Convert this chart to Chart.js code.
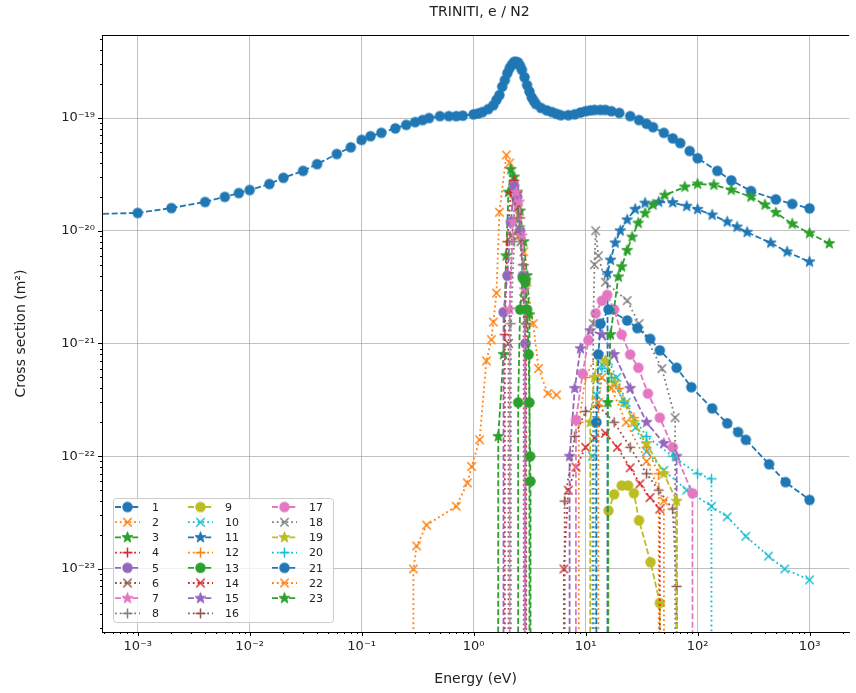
<!DOCTYPE html>
<html>
<head>
<meta charset="utf-8">
<title>TRINITI, e / N2</title>
<script src="https://cdn.jsdelivr.net/npm/chart.js@4/dist/chart.umd.min.js"></script>
<style>
  body { margin: 0; background: #fff; }
  canvas { display: block; }
</style>
</head>
<body>
<canvas id="xsChart" width="856" height="693"></canvas>
<script>
// legend labels, one per process
const labels = ['1', '2', '3', '4', '5', '6', '7', '8', '9', '10', '11', '12',
                '13', '14', '15', '16', '17', '18', '19', '20', '21', '22', '23'];

// cross sections: [energy (eV), sigma (m2)], 0 = below threshold
const s1 = [[1e-4, 1.35e-20], [1e-3, 1.44e-20], [2e-3, 1.59e-20], [4e-3, 1.8e-20], [6e-3, 2.0e-20],
  [8e-3, 2.16e-20], [1e-2, 2.3e-20], [1.5e-2, 2.6e-20], [2e-2, 2.95e-20], [3e-2, 3.4e-20],
  [4e-2, 3.9e-20], [6e-2, 4.8e-20], [8e-2, 5.5e-20], [0.1, 6.4e-20], [0.12, 6.9e-20], [0.15, 7.4e-20],
  [0.2, 8.1e-20], [0.25, 8.7e-20], [0.3, 9.2e-20], [0.35, 9.6e-20], [0.4, 1.0e-19], [0.5, 1.04e-19],
  [0.6, 1.04e-19], [0.7, 1.04e-19], [0.8, 1.05e-19], [1.0, 1.08e-19], [1.1, 1.1e-19], [1.2, 1.13e-19],
  [1.35, 1.2e-19], [1.5, 1.3e-19], [1.6, 1.45e-19], [1.7, 1.6e-19], [1.8, 1.9e-19], [1.9, 2.17e-19],
  [2.0, 2.5e-19], [2.1, 2.78e-19], [2.2, 2.98e-19], [2.3, 3.15e-19], [2.4, 3.15e-19], [2.5, 3.1e-19],
  [2.6, 2.9e-19], [2.7, 2.67e-19], [2.85, 2.3e-19], [3.0, 1.96e-19], [3.15, 1.72e-19], [3.3, 1.53e-19],
  [3.45, 1.42e-19], [3.6, 1.33e-19], [4, 1.23e-19], [4.5, 1.17e-19], [5, 1.13e-19], [5.5, 1.09e-19],
  [6, 1.06e-19], [7, 1.06e-19], [8, 1.08e-19], [9, 1.12e-19], [10, 1.15e-19], [11, 1.17e-19],
  [12, 1.18e-19], [13.5, 1.18e-19], [15, 1.18e-19], [17, 1.15e-19], [20, 1.11e-19], [25, 1.04e-19],
  [30, 9.6e-20], [35, 8.9e-20], [40, 8.3e-20], [50, 7.4e-20], [60, 6.6e-20], [70, 6.0e-20],
  [85, 5.1e-20], [100, 4.4e-20], [150, 3.4e-20], [200, 2.8e-20], [300, 2.25e-20],
  [500, 1.9e-20], [700, 1.73e-20], [1000, 1.58e-20]];
const s2 = [[0.28, 0], [0.29, 1e-23], [0.31, 1.6e-23], [0.38, 2.45e-23], [0.7, 3.6e-23],
  [0.88, 5.8e-23], [0.96, 8.1e-23], [1.13, 1.4e-22], [1.3, 7e-22], [1.44, 1.08e-21],
  [1.5, 1.55e-21], [1.6, 2.8e-21], [1.7, 1.46e-20], [1.96, 4.7e-20], [2.1, 4e-20],
  [2.3, 2.5e-20], [2.5, 9e-21], [2.8, 6.5e-21], [3.0, 3.5e-21], [3.4, 1.5e-21],
  [3.8, 6e-22], [4.6, 3.6e-22], [5.5, 3.5e-22]];
const s3 = [[1.6, 0], [1.66, 1.5e-22], [1.85, 8e-22], [1.95, 6e-21], [2.05, 2.2e-20], [2.15, 3.5e-20],
  [2.3, 3e-20], [2.45, 2.2e-20], [2.6, 1.5e-20], [2.8, 8e-21], [3.0, 4e-21], [3.15, 1.8e-21], [3.25, 0]];
const s4 = [[1.85, 0], [1.9, 1.2e-21], [2.0, 8e-21], [2.15, 2.2e-20], [2.3, 2.8e-20], [2.45, 2.2e-20],
  [2.6, 1.3e-20], [2.8, 5e-21], [2.95, 1.5e-21], [3.0, 0]];
const s5 = [[1.8, 0], [1.85, 1.9e-21], [2.0, 4e-21], [2.15, 1.2e-20], [2.3, 2.5e-20], [2.45, 2e-20],
  [2.6, 1e-20], [2.75, 4e-21], [2.9, 1e-21], [2.95, 0]];
const s6 = [[2.0, 0], [2.05, 1e-21], [2.2, 9e-21], [2.35, 1.8e-20], [2.5, 1.6e-20], [2.65, 8e-21],
  [2.8, 2.5e-21], [2.85, 0]];
const s7 = [[2.05, 0], [2.1, 2e-21], [2.25, 1.2e-20], [2.4, 2.2e-20], [2.55, 1.8e-20], [2.7, 9e-21],
  [2.85, 3e-21], [2.95, 0]];
const s8 = [[2.1, 0], [2.15, 1.5e-21], [2.3, 8e-21], [2.45, 1.3e-20], [2.6, 1.1e-20], [2.75, 5e-21],
  [2.9, 1.5e-21], [2.95, 0]];
const s9 = [[15.5, 0], [16, 3.3e-23], [18, 4.6e-23], [21, 5.5e-23], [24, 5.5e-23], [27, 4.7e-23],
  [30, 2.7e-23], [38, 1.15e-23], [46, 5e-24], [47, 0]];
const s10 = [[11, 0], [11.5, 1e-22], [12.5, 3.5e-22], [14, 6.5e-22], [16, 7e-22], [19, 5e-22],
  [23, 3e-22], [28, 1.8e-22], [35, 1.1e-22], [50, 7.5e-23], [80, 5e-23], [133, 3.6e-23],
  [184, 2.9e-23], [270, 1.95e-23], [430, 1.3e-23], [600, 1e-23], [1000, 8e-24]];
const s11 = [[15.5, 0], [15.7, 4.2e-21], [16.7, 5.5e-21], [18.4, 7.8e-21], [20.4, 1e-20],
  [23.5, 1.25e-20], [27.7, 1.55e-20], [34, 1.76e-20], [45, 1.8e-20], [60, 1.78e-20],
  [80, 1.65e-20], [100, 1.55e-20], [135, 1.38e-20], [184, 1.2e-20], [225, 1.08e-20],
  [277, 9.7e-21], [450, 7.8e-21], [630, 6.5e-21], [1000, 5.3e-21]];
const s12 = [[8.5, 0], [8.7, 2e-22], [10, 5e-22], [12.5, 8e-22], [15, 7e-22], [20, 4e-22],
  [27, 2.2e-22], [35, 1.2e-22], [45, 7e-23], [48, 0]];
const s13 = [[2.45, 0], [2.5, 3e-22], [2.6, 2e-21], [2.75, 3.8e-21], [2.9, 3.5e-21], [3.0, 2e-21],
  [3.1, 8e-22], [3.15, 3e-22], [3.2, 1e-22], [3.22, 6e-23], [3.25, 0]];
const s14 = [[6.2, 0], [6.4, 1e-23], [7, 5e-23], [8.2, 8e-23], [10, 1.2e-22], [12, 1.45e-22],
  [15, 1.6e-22], [19.2, 1.2e-22], [25, 7.9e-23], [30.6, 5.7e-23], [37.6, 4.3e-23], [46, 3.4e-23], [47, 0]];
const s15 = [[6.9, 0], [7.2, 1e-22], [8, 4e-22], [9, 9e-22], [11, 1.3e-21], [14, 1.2e-21],
  [18, 8e-22], [25, 4e-22], [35, 2e-22], [50, 1.3e-22], [65, 1e-22], [70, 0]];
const s16 = [[6.2, 0], [6.5, 4e-23], [8, 1.5e-22], [10, 2.5e-22], [13, 2.8e-22], [18, 2e-22],
  [25, 1.2e-22], [35, 7e-23], [45, 5e-23], [60, 3.4e-23], [65, 7e-24], [68, 0]];
const s17 = [[7.9, 0], [8.2, 2.1e-22], [9.4, 5.4e-22], [10.6, 1.07e-21], [12.3, 1.85e-21],
  [14, 2.4e-21], [15.6, 2.7e-21], [18, 2e-21], [21, 1.2e-21], [25, 8e-22], [29.6, 6.1e-22],
  [36, 3.6e-22], [46, 2.2e-22], [60, 1.2e-22], [90, 4.7e-23], [95, 0]];
const s18 = [[11.5, 0], [11.7, 1.5e-21], [12, 5e-21], [12.3, 1e-20], [13, 6e-21], [15, 3.5e-21],
  [23.5, 2.4e-21], [30, 1.5e-21], [48, 6e-22], [63, 2.2e-22], [70, 0]];
const s19 = [[10.5, 0], [11, 2e-22], [12, 5e-22], [13, 8e-22], [15, 7e-22], [18, 4.5e-22],
  [22, 3e-22], [27, 2e-22], [35, 1.3e-22], [50, 7e-23], [65, 4e-23], [70, 0]];
const s20 = [[11.8, 0], [12.2, 2e-22], [14, 6e-22], [17, 5e-22], [22, 3e-22], [35, 1.5e-22],
  [60, 1e-22], [100, 7e-23], [133, 6.3e-23], [140, 0]];
const s21 = [[12, 0], [12.5, 2e-22], [13, 8e-22], [13.6, 1.5e-21], [16, 2e-21], [23.5, 1.6e-21],
  [29, 1.37e-21], [37.7, 1.1e-21], [46, 8.7e-22], [65, 6.1e-22], [88, 4.1e-22], [135, 2.66e-22],
  [184, 1.96e-22], [230, 1.64e-22], [270, 1.4e-22], [435, 8.5e-23], [610, 5.9e-23], [1000, 4.1e-23]];
const s22 = [[12.8, 0], [13, 3e-22], [14, 5e-22], [17, 4e-22], [23, 2e-22], [35, 9e-23],
  [50, 4e-23], [55, 0]];
const s23 = [[15.5, 0], [15.8, 3e-22], [16.7, 1.2e-21], [19.6, 3.9e-21], [21, 4.8e-21],
  [23.5, 6.7e-21], [26, 8.8e-21], [29.5, 1.17e-20], [34, 1.43e-20], [40, 1.7e-20], [51, 2.07e-20],
  [77, 2.45e-20], [100, 2.6e-20], [140, 2.55e-20], [200, 2.3e-20], [300, 2e-20], [400, 1.7e-20],
  [500, 1.45e-20], [700, 1.15e-20], [1000, 9.5e-21], [1500, 7.7e-21]];

const allSeries = [s1, s2, s3, s4, s5, s6, s7, s8, s9, s10, s11, s12,
                   s13, s14, s15, s16, s17, s18, s19, s20, s21, s22, s23];

// axis ranges
const xRange = [4.8e-4, 2260];
const yRange = [2.76e-24, 5.45e-19];

// matplotlib default colour cycle, marker / line cycle
const tab10 = ['#1f77b4', '#ff7f0e', '#2ca02c', '#d62728', '#9467bd',
               '#8c564b', '#e377c2', '#7f7f7f', '#bcbd22', '#17becf'];
const markerCycle = ['circle', 'x', 'star', 'plus'];
const DASHED = [6, 2.6];
const DOTTED = [1.8, 3];
const FONT = 'DejaVu Sans';

// zero on a log axis: push far below the frame (like matplotlib's clip)
const LOG_FLOOR = 1e-100;

const SUP = {'-': '⁻', '0': '⁰', '1': '¹', '2': '²', '3': '³', '4': '⁴',
             '5': '⁵', '6': '⁶', '7': '⁷', '8': '⁸', '9': '⁹'};
const isDecade = v => Math.abs(Math.log10(v) - Math.round(Math.log10(v))) < 1e-6;
const decadeLabel = v => '10' + String(Math.round(Math.log10(v))).split('').map(c => SUP[c]).join('');

function logTicks(min, max) {
    const out = [];
    for (let e = Math.floor(Math.log10(min)); e <= Math.ceil(Math.log10(max)); e++) {
        for (let m = 1; m < 10; m++) {
            const v = Number((m * Math.pow(10, e)).toPrecision(6));
            if (v >= min && v <= max) out.push({ value: v });
        }
    }
    return out;
}

// marker sprites, used for the points and the legend
function markerImage(kind, color) {
    const size = 15;
    const c = document.createElement('canvas');
    c.width = c.height = size;
    const g = c.getContext('2d');
    g.translate(size / 2, size / 2);
    g.strokeStyle = color;
    g.fillStyle = color;
    g.lineWidth = 1.5;
    g.beginPath();
    if (kind === 'circle') {
        g.arc(0, 0, 5.2, 0, Math.PI * 2);
        g.fill();
    } else if (kind === 'star') {
        for (let k = 0; k < 10; k++) {
            const r = k % 2 ? 2.4 : 5.8;
            const a = -Math.PI / 2 + k * Math.PI / 5;
            g.lineTo(r * Math.cos(a), r * Math.sin(a));
        }
        g.closePath();
        g.fill();
        g.lineWidth = 0.8;
        g.stroke();
    } else if (kind === 'x') {
        g.moveTo(-4.2, -4.2); g.lineTo(4.2, 4.2);
        g.moveTo(-4.2, 4.2); g.lineTo(4.2, -4.2);
        g.stroke();
    } else {
        g.moveTo(-5, 0); g.lineTo(5, 0);
        g.moveTo(0, -5); g.lineTo(0, 5);
        g.stroke();
    }
    return c;
}

const datasets = allSeries.map((pts, i) => {
    const color = tab10[i % 10];
    return {
        label: labels[i],
        data: pts.map(p => ({ x: p[0], y: p[1] > 0 ? p[1] : LOG_FLOOR })),
        borderColor: color,
        backgroundColor: color,
        borderWidth: 1.8,
        borderDash: i % 2 ? DOTTED : DASHED,
        pointStyle: markerImage(markerCycle[i % 4], color),
        pointRadius: 5,
        tension: 0,
        order: allSeries.length - i   // later series on top, as in matplotlib
    };
});

// title, top spine, tick marks and the in-axes legend
const framePlugin = {
    id: 'frame',
    afterDraw(chart) {
        const g = chart.ctx;
        const a = chart.chartArea;
        g.save();
        g.strokeStyle = '#000';
        g.lineWidth = 1;
        g.beginPath();
        g.moveTo(a.left, a.top + 0.5);
        g.lineTo(a.right, a.top + 0.5);
        g.stroke();

        // ticks: major 4px, minor 2px
        const xs = chart.scales.x, ys = chart.scales.y;
        g.beginPath();
        xs.ticks.forEach(t => {
            const px = Math.round(xs.getPixelForValue(t.value)) + 0.5;
            g.moveTo(px, a.bottom);
            g.lineTo(px, a.bottom + (isDecade(t.value) ? 4 : 2));
        });
        ys.ticks.forEach(t => {
            const py = Math.round(ys.getPixelForValue(t.value)) + 0.5;
            g.moveTo(a.left, py);
            g.lineTo(a.left - (isDecade(t.value) ? 4 : 2), py);
        });
        g.stroke();

        g.fillStyle = '#222';
        g.font = '14px "' + FONT + '"';
        g.textAlign = 'center';
        g.textBaseline = 'middle';
        g.fillText('TRINITI, e / N2', (a.left + a.right) / 2 + 4, 12);

        // legend, 3 columns of 8
        const box = { x: 113, y: 498, w: 220, h: 124 };
        g.fillStyle = 'rgba(255,255,255,0.8)';
        g.strokeStyle = '#cccccc';
        g.beginPath();
        g.roundRect(box.x + 0.5, box.y + 0.5, box.w, box.h, 3);
        g.fill();
        g.stroke();
        const colX = [115, 188, 272];
        g.font = '11px "' + FONT + '"';
        g.textAlign = 'left';
        chart.data.datasets.forEach((ds, i) => {
            const x0 = colX[Math.floor(i / 8)];
            const y0 = 507 + (i % 8) * 15.2;
            g.strokeStyle = ds.borderColor;
            g.lineWidth = ds.borderWidth;
            g.setLineDash(ds.borderDash);
            g.beginPath();
            g.moveTo(x0, y0);
            g.lineTo(x0 + 25, y0);
            g.stroke();
            g.setLineDash([]);
            const img = ds.pointStyle;
            g.drawImage(img, x0 + 12.5 - img.width / 2, y0 - img.height / 2);
            g.fillStyle = '#222';
            g.fillText(ds.label, x0 + 37, y0 + 1);
        });
        g.restore();
    }
};

const tickFont = { family: FONT, size: 13 };

new Chart(document.getElementById('xsChart'), {
    type: 'line',
    data: { datasets },
    options: {
        responsive: false,
        devicePixelRatio: 1,
        animation: false,
        events: [],
        layout: { padding: { top: 35, left: 0, right: 0, bottom: 0 } },
        plugins: { legend: { display: false }, tooltip: { enabled: false } },
        scales: {
            x: {
                type: 'logarithmic',
                min: xRange[0],
                max: xRange[1],
                bounds: 'data',
                afterBuildTicks: ax => { ax.ticks = logTicks(ax.min, ax.max); },
                afterFit: ax => { ax.height = 61; },
                ticks: {
                    autoSkip: false, maxRotation: 0, padding: 3, color: '#222', font: tickFont,
                    callback: v => isDecade(v) ? decadeLabel(v) : ''
                },
                grid: {
                    color: c => isDecade(c.tick.value) ? '#b0b0b0' : 'rgba(0,0,0,0)',
                    lineWidth: 0.8, tickLength: 4, tickColor: 'rgba(0,0,0,0)'
                },
                border: { color: '#000', width: 1 },
                title: { display: true, text: 'Energy (eV)', color: '#222',
                         font: { family: FONT, size: 14 }, padding: { top: 4, bottom: 5 } }
            },
            y: {
                type: 'logarithmic',
                min: yRange[0],
                max: yRange[1],
                bounds: 'data',
                afterBuildTicks: ax => { ax.ticks = logTicks(ax.min, ax.max); },
                afterFit: ax => { ax.width = 102; },
                ticks: {
                    autoSkip: false, padding: 3, color: '#222', font: tickFont,
                    callback: v => isDecade(v) ? decadeLabel(v) : ''
                },
                grid: {
                    color: c => isDecade(c.tick.value) ? '#b0b0b0' : 'rgba(0,0,0,0)',
                    lineWidth: 0.8, tickLength: 4, tickColor: 'rgba(0,0,0,0)'
                },
                border: { color: '#000', width: 1 },
                title: { display: true, text: 'Cross section (m²)', color: '#222',
                         font: { family: FONT, size: 14 }, padding: { top: 13, bottom: 4 } }
            }
        }
    },
    plugins: [framePlugin]
});
</script>
</body>
</html>
